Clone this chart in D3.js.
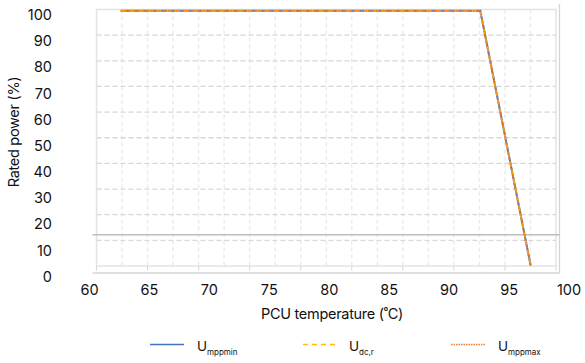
<!DOCTYPE html>
<html>
<head>
<meta charset="utf-8">
<script src="https://cdn.jsdelivr.net/npm/d3@7"></script>
<style>
  body { margin: 0; background: #fff; }
  svg { display: block; font-family: Inter, 'Noto Sans', sans-serif; }
</style>
</head>
<body>
<div id="chart"></div>
<script>
// Axis tick values
const xTicks = [60, 65, 70, 75, 80, 85, 90, 95, 100];
const yTicks = [0, 10, 20, 30, 40, 50, 60, 70, 80, 90, 100];

// Derating curve (temperature in degC, rated power in %)
const temps = [62.6, 92.6, 96.8];
const uMppMin = [101.6, 101.6, 4.3];
const uDcR = [101.6, 101.6, 4.3];
const uMppMax = [101.6, 101.6, 4.3];

// Reference line level (%)
const refLevel = 16;

// Inner plot grid: cells along x and y
const gridCols = d3.range(0, 19);
const gridRows = d3.range(0, 11);

const seriesNames = ['mppmin', 'dc,r', 'mppmax'];
const seriesColors = ['#4472c4', '#ffc000', '#ed7d31'];
const seriesDash = [null, '5,4', '1.5,1'];

const width = 585, height = 363;

const svg = d3.select('#chart').append('svg')
  .attr('width', width)
  .attr('height', height);

// label scales (text positions)
const x = d3.scaleLinear().domain([60, 100]).range([89.5, 569]);
const y = d3.scaleLinear().domain([0, 100]).range([276.7, 15]);

// inner grid scales
const gx = d3.scaleLinear().domain([0, 18]).range([96.5, 556]);
const gy = d3.scaleLinear().domain([0, 10]).range([266, 9.5]);

/**********************************************************************
 * Grid
 **********************************************************************/
svg.append('g').selectAll('line')
  .data(gridCols.slice(1, -1))
  .enter().append('line')
  .attr('x1', d => gx(d)).attr('x2', d => gx(d))
  .attr('y1', gy(10)).attr('y2', gy(0))
  .style('stroke', '#ebebeb')
  .style('stroke-width', 1.5)
  .style('stroke-dasharray', '4,3');

svg.append('g').selectAll('line')
  .data(gridRows.slice(1, -1))
  .enter().append('line')
  .attr('x1', gx(0)).attr('x2', gx(18))
  .attr('y1', d => gy(d)).attr('y2', d => gy(d))
  .style('stroke', '#d6d6d6')
  .style('stroke-width', 1.3)
  .style('stroke-dasharray', '5,3');

// inner box
svg.append('rect')
  .attr('x', gx(0)).attr('y', gy(10))
  .attr('width', gx(18) - gx(0)).attr('height', gy(0) - gy(10))
  .style('fill', 'none')
  .style('stroke', '#e3e3e3')
  .style('stroke-width', 1.5);

// tick marks under the box
svg.append('g').selectAll('line')
  .data(gridCols.filter(d => d % 2 === 0))
  .enter().append('line')
  .attr('x1', d => gx(d)).attr('x2', d => gx(d))
  .attr('y1', gy(0)).attr('y2', gy(0) + 4.5)
  .style('stroke', '#d6d6d6')
  .style('stroke-width', 1);

// outer frame
svg.append('line')
  .attr('x1', 92.5).attr('x2', 559.5).attr('y1', 273).attr('y2', 273)
  .style('stroke', '#d4d4d4').style('stroke-width', 1.3);
svg.append('line')
  .attr('x1', 559.5).attr('x2', 559.5).attr('y1', 4).attr('y2', 273)
  .style('stroke', '#d4d4d4').style('stroke-width', 1.3);

// reference line
svg.append('line')
  .attr('x1', 92.5).attr('x2', 559.5)
  .attr('y1', y(refLevel)).attr('y2', y(refLevel))
  .style('stroke', '#bdbdbd').style('stroke-width', 1.5);

/**********************************************************************
 * Series
 **********************************************************************/
const line = d3.line()
  .x(d => x(d[0]))
  .y(d => y(d[1]));

[uMppMin, uDcR, uMppMax].forEach((vals, i) => {
  svg.append('path')
    .datum(temps.map((t, j) => [t, vals[j]]))
    .attr('d', line)
    .style('fill', 'none')
    .style('stroke', seriesColors[i])
    .style('stroke-width', i === 0 ? 2 : 1.8)
    .style('stroke-dasharray', seriesDash[i]);
});

/**********************************************************************
 * Axis labels
 **********************************************************************/
svg.append('g').selectAll('text')
  .data(xTicks)
  .enter().append('text')
  .attr('x', d => x(d))
  .attr('y', 295)
  .attr('text-anchor', 'middle')
  .style('font-size', '14.5px')
  .style('fill', '#111')
  .text(d => d);

svg.append('g').selectAll('text')
  .data(yTicks)
  .enter().append('text')
  .attr('x', 52)
  .attr('y', d => y(d) + 5)
  .attr('text-anchor', 'end')
  .style('font-size', '14.5px')
  .style('fill', '#111')
  .text(d => d);

svg.append('text')
  .attr('x', 332)
  .attr('y', 319)
  .attr('text-anchor', 'middle')
  .style('font-size', '14.5px')
  .style('letter-spacing', '-0.3px')
  .style('fill', '#111')
  .text('PCU temperature (˚C)');

svg.append('text')
  .attr('transform', 'translate(19,132) rotate(-90)')
  .attr('text-anchor', 'middle')
  .style('font-size', '14.5px')
  .style('letter-spacing', '-0.3px')
  .style('fill', '#111')
  .text('Rated power (%)');

/**********************************************************************
 * Legend
 **********************************************************************/
const legendX = [150, 303, 451];
const legend = svg.append('g').selectAll('g')
  .data(seriesNames)
  .enter().append('g')
  .attr('transform', (d, i) => 'translate(' + legendX[i] + ',344.5)');

legend.append('line')
  .attr('x1', 0).attr('x2', 34)
  .style('stroke', (d, i) => seriesColors[i])
  .style('stroke-width', 1.5)
  .style('stroke-dasharray', (d, i) => seriesDash[i]);

const lt = legend.append('text')
  .attr('x', (d, i) => i === 1 ? 46 : 47)
  .attr('y', 6)
  .style('font-size', '13.5px')
  .style('fill', '#111');
lt.append('tspan').text('U');
lt.append('tspan')
  .attr('dy', 4)
  .style('font-size', '8px')
  .text(d => d);
</script>
</body>
</html>
